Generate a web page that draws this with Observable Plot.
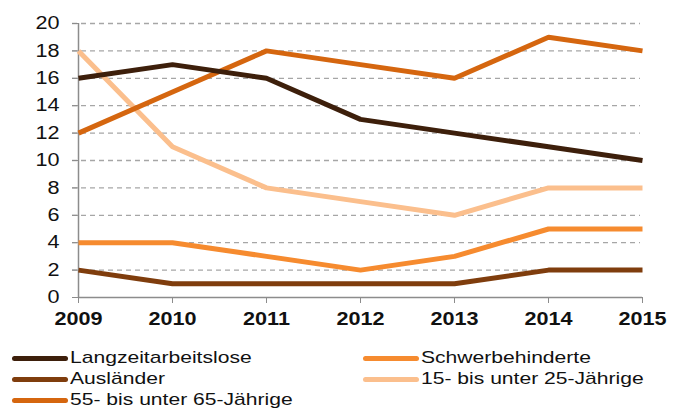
<!DOCTYPE html>
<html><head><meta charset="utf-8">
<script src="https://cdn.jsdelivr.net/npm/d3@7"></script>
<script src="https://cdn.jsdelivr.net/npm/@observablehq/plot@0.6"></script>
<style>
body{margin:0;background:#fff;font-family:"Liberation Sans",Arial,sans-serif;}
#wrap{position:relative;width:683px;height:409px;}
.leg{position:absolute;font-size:17px;color:#111;height:20px;line-height:20px;display:flex;align-items:center;white-space:nowrap;}
.sw{display:inline-block;width:56px;height:5px;border-radius:3px;margin-right:2px;}
.lt{display:inline-block;transform:scaleX(1.24);transform-origin:left center;}
</style></head>
<body><div id="wrap"></div>
<script>
const years = [2009, 2010, 2011, 2012, 2013, 2014, 2015];
const seriesNames = ["Langzeitarbeitslose", "Schwerbehinderte", "Ausländer", "15- bis unter 25-Jährige", "55- bis unter 65-Jährige"];
const langzeit = [16, 17, 16, 13, 12, 11, 10];
const schwer = [4, 4, 3, 2, 3, 5, 5];
const auslaender = [2, 1, 1, 1, 1, 2, 2];
const jung = [18, 11, 8, 7, 6, 8, 8];
const alt = [12, 15, 18, 17, 16, 19, 18];
const colors = ["#3d1f0b", "#f68b2f", "#7f3d0d", "#fbbf8d", "#d5660f"];
const yTicks = [0, 2, 4, 6, 8, 10, 12, 14, 16, 18, 20];

const valuesList = [langzeit, schwer, auslaender, jung, alt];
const data = [];
seriesNames.forEach((s, i) => years.forEach((y, j) => data.push({series: s, year: y, value: valuesList[i][j]})));
const order = ["15- bis unter 25-Jährige", "55- bis unter 65-Jährige", "Langzeitarbeitslose", "Schwerbehinderte", "Ausländer"];

const plot = Plot.plot({
  width: 683, height: 342,
  marginTop: 23, marginBottom: 45, marginLeft: 78, marginRight: 41,
  style: {fontFamily: "Liberation Sans, Arial, sans-serif", background: "#fff"},
  x: {domain: [2009, 2015], ticks: years, tickFormat: d => String(d)},
  y: {domain: [0, 20], ticks: yTicks},
  color: {domain: seriesNames, range: colors},
  marks: [
    Plot.ruleY(yTicks.filter(d => d > 0), {stroke: "#a6a6a6", strokeWidth: 1.3, strokeDasharray: "5,4", insetLeft: -6, insetRight: 2}),
    Plot.ruleY([0], {stroke: "#8c8c8c", strokeWidth: 1.5}),
    Plot.ruleX([2009], {stroke: "#8c8c8c", strokeWidth: 1.5}),
    Plot.axisY({ticks: yTicks, tickSize: 6, tickPadding: 13, stroke: "#8c8c8c", fontSize: 18, color: "#111", label: null}),
    Plot.axisX({ticks: years, tickSize: 6, tickPadding: 9, stroke: "#8c8c8c", fontSize: 18, fontWeight: "bold", color: "#111", label: null, tickFormat: d => String(d)}),
    ...order.map(s => Plot.line(data.filter(d => d.series === s), {x: "year", y: "value", stroke: "series", strokeWidth: 5, strokeLinejoin: "miter", strokeLinecap: "butt"}))
  ]
});
const wrap = document.getElementById("wrap");
wrap.appendChild(plot);
plot.style.position = "absolute"; plot.style.left = "0"; plot.style.top = "0";
// widen axis labels horizontally, as in the reference
plot.querySelectorAll("text").forEach(t => {
  const len = t.getComputedTextLength();
  if (len > 0) {
    t.setAttribute("textLength", (len * 1.2).toFixed(2));
    t.setAttribute("lengthAdjust", "spacingAndGlyphs");
  }
});

const legPos = [[12, 348], [363, 348], [12, 369], [363, 369], [12, 390]];
seriesNames.forEach((s, i) => {
  const d = document.createElement("div");
  d.className = "leg";
  d.style.left = legPos[i][0] + "px"; d.style.top = legPos[i][1] + "px";
  d.innerHTML = `<span class="sw" style="background:${colors[i]}"></span><span class="lt">${s}</span>`;
  wrap.appendChild(d);
});
</script></body></html>
